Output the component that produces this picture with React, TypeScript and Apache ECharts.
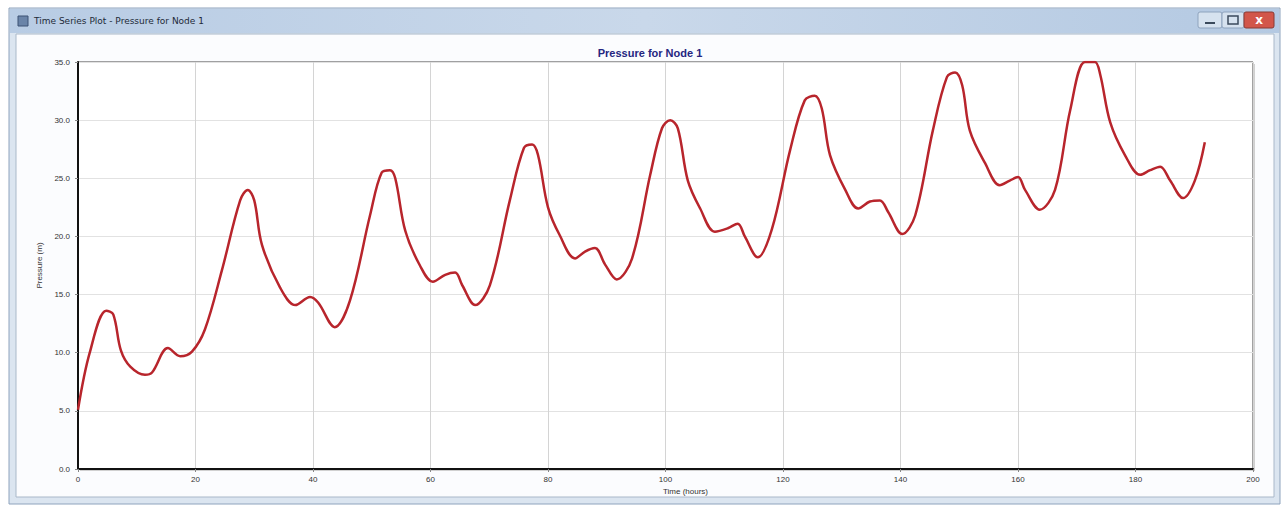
import React, { useEffect, useRef } from "react";
import * as echarts from "echarts";

const hours = [
  0, 2, 4.8, 6.0, 7.3, 8.9, 11.4, 12.6, 15.3, 17.4, 19.4, 21.6, 24.5, 27.6, 28.9, 30, 31.3, 34.4, 37, 39.5,
  40.9, 43.7, 46.3, 49.7, 51.7, 53.1, 54, 55.7, 58.2, 60.4, 62.5, 64.2, 65.4, 67.6, 70.1, 73.5, 75.9, 77.3,
  78.3, 80, 82, 84.6, 86.3, 88, 89.7, 91.7, 94.3, 97.4, 99.4, 100.8, 102.1, 103.8, 105.9, 108.4, 110.6,
  112.3, 113.5, 115.7, 118.1, 121.2, 123.7, 125.4, 126.6, 128, 130.6, 132.8, 134.8, 136.5, 137.9, 140.3,
  142.5, 145.5, 147.9, 149.3, 150.5, 151.8, 154.4, 156.9, 158.6, 160, 161.2, 163.7, 166.3, 168.9, 171.4,
  173.1, 174, 175.7, 178.2, 180.8, 182.5, 184.2, 185.9, 188.1, 190.1, 191.8,
];
const pressure = [
  5.1, 10.0, 13.6, 13.3, 10.2, 8.8, 8.1, 8.3, 10.4, 9.7, 10.1, 12.0, 17.1, 23.1, 24.0, 23.1, 19.3, 15.6, 14.1,
  14.8, 14.3, 12.2, 14.5, 21.8, 25.5, 25.7, 25.0, 20.5, 17.5, 16.1, 16.7, 16.9, 15.8, 14.1, 15.8, 23.1, 27.6,
  27.9, 27.0, 22.5, 20.1, 18.1, 18.7, 19.0, 17.6, 16.3, 18.1, 25.3, 29.3, 30.0, 29.3, 24.8, 22.4, 20.4, 20.7,
  21.1, 20.0, 18.2, 20.6, 27.4, 31.7, 32.1, 31.0, 27.0, 24.0, 22.4, 23.0, 23.1, 22.1, 20.2, 21.8, 29.1, 33.7,
  34.1, 33.0, 29.1, 26.3, 24.4, 24.8, 25.1, 24.0, 22.3, 24.0, 30.9, 35.0, 35.0, 33.9, 29.8, 27.0, 25.3, 25.7,
  26.0, 24.8, 23.3, 24.8, 28.1,
];

const windowTitle = "Time Series Plot - Pressure for Node 1";
const chartTitle = "Pressure for Node 1";
const xName = "Time (hours)";
const yName = "Pressure (m)";

export default function App() {
  const ref = useRef<HTMLDivElement>(null);
  useEffect(() => {
    if (!ref.current) return;
    const chart = echarts.init(ref.current, null, { renderer: "svg" });
    const data = hours.map((h, i) => [h, pressure[i]]);
    chart.setOption({
      animation: false,
      backgroundColor: "#ffffff",
      graphic: [
        { type: "rect", z: -10, shape: { x: 9, y: 8, width: 1271, height: 496 }, style: { fill: "#dbe5f0", stroke: "#8ea3bd", lineWidth: 1 } },
        {
          type: "rect", z: -9, shape: { x: 10, y: 9, width: 1269, height: 24 },
          style: {
            fill: new echarts.graphic.LinearGradient(0, 0, 1, 0, [
              { offset: 0, color: "#b8cce4" },
              { offset: 0.5, color: "#c9d8ea" },
              { offset: 1, color: "#b4c9e2" },
            ]),
          },
        },
        { type: "rect", z: -8, shape: { x: 16, y: 34, width: 1258, height: 463 }, style: { fill: "#fbfcfe", stroke: "#a9b8c9", lineWidth: 1 } },
        { type: "rect", z: -7, shape: { x: 18, y: 16, width: 10, height: 10 }, style: { fill: "#6a84a8", stroke: "#3c5374", lineWidth: 1 } },
        { type: "text", z: -7, style: { x: 34, y: 21, text: windowTitle, fill: "#1e2a38", font: "9px 'DejaVu Sans'", verticalAlign: "middle" } },
        { type: "rect", z: -7, shape: { x: 1198, y: 12, width: 24, height: 16, r: 2 }, style: { fill: "#d6e2ef", stroke: "#8ea3bd", lineWidth: 1 } },
        { type: "rect", z: -7, shape: { x: 1222, y: 12, width: 22, height: 16, r: 2 }, style: { fill: "#d6e2ef", stroke: "#8ea3bd", lineWidth: 1 } },
        { type: "rect", z: -7, shape: { x: 1244, y: 12, width: 30, height: 16, r: 2 }, style: { fill: "#d2564a", stroke: "#8a3a33", lineWidth: 1 } },
        { type: "line", z: -6, shape: { x1: 1205, y1: 23, x2: 1215, y2: 23 }, style: { stroke: "#3b4a5c", lineWidth: 2 } },
        { type: "rect", z: -6, shape: { x: 1228, y: 16, width: 10, height: 8 }, style: { fill: "none", stroke: "#3b4a5c", lineWidth: 1.5 } },
        { type: "text", z: -6, style: { x: 1259, y: 20, text: "x", fill: "#ffffff", font: "bold 12px 'DejaVu Sans'", align: "center", verticalAlign: "middle" } },
        { type: "rect", z: -5, shape: { x: 80, y: 64, width: 1175, height: 407 }, style: { fill: "#d0d0d0" } },
        { type: "rect", z: -4, shape: { x: 78, y: 62, width: 1175, height: 407 }, style: { fill: "#ffffff" } },
      ],
      title: {
        text: chartTitle,
        left: 645,
        top: 42,
        textAlign: "center",
        textStyle: { color: "#262680", fontSize: 11, fontWeight: "bold", fontFamily: "Liberation Sans" },
      },
      grid: { left: 78, right: 30, top: 62, bottom: 38, show: true, borderColor: "#444", borderWidth: 1, backgroundColor: "transparent" },
      xAxis: {
        type: "value",
        min: 0,
        max: 200,
        interval: 20,
        name: xName,
        nameLocation: "middle",
        nameGap: 16,
        nameTextStyle: { color: "#333", fontSize: 8, fontFamily: "Liberation Sans", padding: [0, 0, 0, 40] },
        axisLine: { show: true, lineStyle: { color: "#111", width: 2 } },
        axisTick: { show: true, length: 3, lineStyle: { color: "#888" } },
        axisLabel: { color: "#333", fontSize: 8, fontFamily: "Liberation Sans", margin: 6 },
        splitLine: { show: true, lineStyle: { color: "#d4d4d4", width: 1 } },
      },
      yAxis: {
        type: "value",
        min: 0,
        max: 35,
        interval: 5,
        name: yName,
        nameLocation: "middle",
        nameGap: 32,
        nameRotate: 90,
        nameTextStyle: { color: "#333", fontSize: 8, fontFamily: "Liberation Sans" },
        axisLine: { show: true, lineStyle: { color: "#111", width: 2 } },
        axisTick: { show: true, length: 3, lineStyle: { color: "#888" } },
        axisLabel: { color: "#333", fontSize: 8, fontFamily: "Liberation Sans", margin: 8, formatter: (v: number) => v.toFixed(1) },
        splitLine: { show: true, lineStyle: { color: "#e2e2e2", width: 1 } },
      },
      series: [
        {
          type: "line",
          data,
          smooth: 0.35,
          showSymbol: false,
          clip: true,
          lineStyle: { color: "#b8252c", width: 2.5 },
        },
      ],
    });
    return () => chart.dispose();
  }, []);
  return <div ref={ref} style={{ position: "absolute", left: 0, top: 0, width: 1283, height: 507 }} />;
}
